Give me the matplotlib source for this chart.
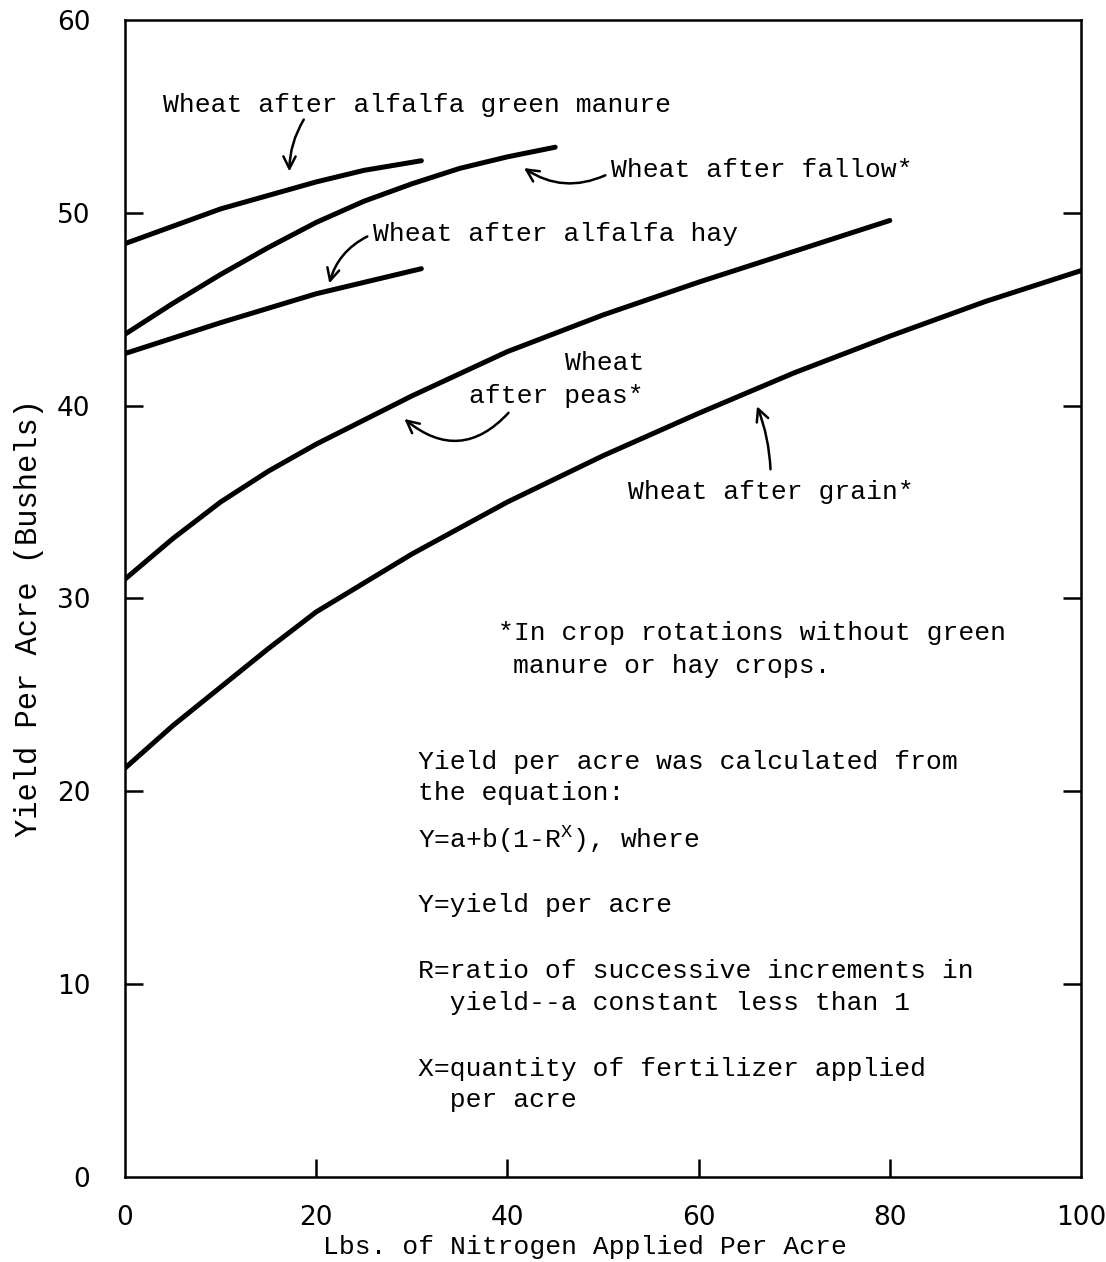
import matplotlib.pyplot as plt

# curves (lbs N per acre -> bushels per acre)
x_manure = [0, 5, 10, 15, 20, 25, 31]
y_manure = [48.4, 49.3, 50.2, 50.9, 51.6, 52.2, 52.7]

x_fallow = [0, 5, 10, 15, 20, 25, 30, 35, 40, 45]
y_fallow = [43.7, 45.3, 46.8, 48.2, 49.5, 50.6, 51.5, 52.3, 52.9, 53.4]

x_hay = [0, 10, 20, 31]
y_hay = [42.7, 44.3, 45.8, 47.1]

x_peas = [0, 5, 10, 15, 20, 30, 40, 50, 60, 70, 80]
y_peas = [31.0, 33.1, 35.0, 36.6, 38.0, 40.5, 42.8, 44.7, 46.4, 48.0, 49.6]

x_grain = [0, 5, 10, 15, 20, 30, 40, 50, 60, 70, 80, 90, 100]
y_grain = [21.2, 23.4, 25.4, 27.4, 29.3, 32.3, 35.0, 37.4, 39.6, 41.7, 43.6, 45.4, 47.0]

x_ticks = [0, 20, 40, 60, 80, 100]
y_ticks = [0, 10, 20, 30, 40, 50, 60]
x_marks = [20, 40, 60, 80]
y_marks = [10, 20, 30, 40, 50]

mono = 'Liberation Mono'
fs = 19

fig = plt.figure(figsize=(11.06, 12.62), dpi=100)
ax = fig.add_axes([0.113, 0.0674, 0.8644, 0.9168])

for xs, ys in [(x_manure, y_manure), (x_fallow, y_fallow), (x_hay, y_hay),
               (x_peas, y_peas), (x_grain, y_grain)]:
    ax.plot(xs, ys, color='black', lw=3.6, solid_capstyle='round')

ax.set_xlim(0, 100)
ax.set_ylim(0, 60)
for s in ax.spines.values():
    s.set_linewidth(1.8)

# labels from major ticks (no marks), inward marks from minor ticks
ax.xaxis.remove_overlapping_locs = False
ax.yaxis.remove_overlapping_locs = False
ax.set_xticks(x_ticks)
ax.set_yticks(y_ticks)
ax.set_xticks(x_marks, minor=True)
ax.set_yticks(y_marks, minor=True)
ax.tick_params(which='major', length=0, labelsize=19)
ax.tick_params(axis='x', which='major', pad=20)
ax.tick_params(axis='y', which='major', pad=25)
ax.tick_params(which='minor', direction='in', length=13, width=1.8)
ax.tick_params(axis='y', which='minor', right=True)

fig.text(0.529, 0.012, 'Lbs. of Nitrogen Applied Per Acre', family=mono, fontsize=fs,
         ha='center', va='center')
fig.text(0.026, 0.51, 'Yield Per Acre (Bushels)', family=mono, fontsize=22,
         rotation=90, ha='center', va='center')

arrow = dict(arrowstyle='->', color='black', lw=1.8, mutation_scale=22)

# curve labels
ax.annotate('Wheat after alfalfa green manure', xy=(17.2, 52.0), xytext=(4.0, 55.6),
            family=mono, fontsize=fs, va='center', ha='left',
            arrowprops=dict(arrow, connectionstyle='arc3,rad=0.15',
                            shrinkA=0, relpos=(0.28, 0.0)))
ax.annotate('Wheat after fallow*', xy=(41.5, 52.4), xytext=(50.8, 52.2),
            family=mono, fontsize=fs, va='center', ha='left',
            arrowprops=dict(arrow, connectionstyle='arc3,rad=-0.3', shrinkA=2,
                            relpos=(0.0, 0.4)))
ax.annotate('Wheat after alfalfa hay', xy=(21.3, 46.2), xytext=(25.9, 48.9),
            family=mono, fontsize=fs, va='center', ha='left',
            arrowprops=dict(arrow, connectionstyle='arc3,rad=0.25', shrinkA=2,
                            relpos=(0.0, 0.5)))
ax.text(50.2, 42.2, 'Wheat', family=mono, fontsize=fs, va='center', ha='center')
ax.annotate('after peas*', xy=(29.0, 39.4), xytext=(36.0, 40.5),
            family=mono, fontsize=fs, va='center', ha='left',
            arrowprops=dict(arrow, connectionstyle='arc3,rad=-0.5', shrinkA=2,
                            relpos=(0.25, 0.0)))
ax.annotate('Wheat after grain*', xy=(66.0, 40.1), xytext=(52.6, 35.5),
            family=mono, fontsize=fs, va='center', ha='left',
            arrowprops=dict(arrow, connectionstyle='arc3,rad=0.1', shrinkA=6,
                            relpos=(0.5, 1.0)))

# notes
ax.text(39.0, 28.2, '*In crop rotations without green', family=mono, fontsize=fs,
        va='center', ha='left')
ax.text(40.6, 26.5, 'manure or hay crops.', family=mono, fontsize=fs,
        va='center', ha='left')
notes = [
    (21.5, 'Yield per acre was calculated from'),
    (19.9, 'the equation:'),
    (17.5, 'Y=a+b(1-R$^\\mathregular{X}$), where'),
    (14.1, 'Y=yield per acre'),
    (10.7, 'R=ratio of successive increments in'),
    (9.0, '  yield--a constant less than 1'),
    (5.6, 'X=quantity of fertilizer applied'),
    (4.0, '  per acre'),
]
for ny, s in notes:
    ax.text(30.6, ny, s, family=mono, fontsize=fs, va='center', ha='left')

fig.savefig('out.png', dpi=100)
